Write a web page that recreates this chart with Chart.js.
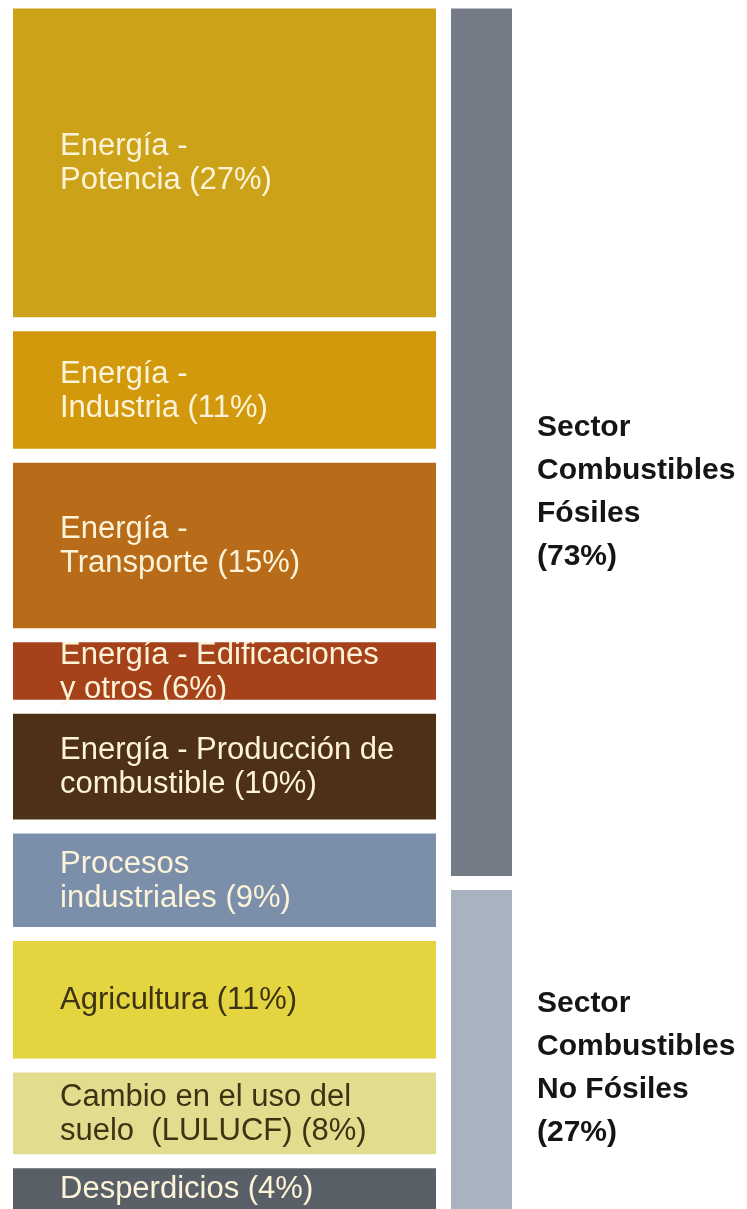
<!DOCTYPE html>
<html lang="es">
<head>
<meta charset="utf-8">
<title>Emisiones por sector</title>
<script src="https://cdn.jsdelivr.net/npm/chart.js@4.4.1/dist/chart.umd.min.js"></script>
<style>
  html, body { margin: 0; padding: 0; background: #fff; }
  body { width: 747px; height: 1209px; position: relative; overflow: hidden; }
  #sector-chart { position: absolute; left: 13px; top: 0; }
  #group-chart { position: absolute; left: 451px; top: 0; }
</style>
</head>
<body>
<canvas id="sector-chart" width="423" height="1209"></canvas>
<canvas id="group-chart" width="296" height="1209"></canvas>
<script>
// sectores (columna izquierda)
const sectorLabels = [
    ['Energía -', 'Potencia (27%)'],
    ['Energía -', 'Industria (11%)'],
    ['Energía -', 'Transporte (15%)'],
    ['Energía - Edificaciones', 'y otros (6%)'],
    ['Energía - Producción de', 'combustible (10%)'],
    ['Procesos', 'industriales (9%)'],
    ['Agricultura (11%)'],
    ['Cambio en el uso del', 'suelo  (LULUCF) (8%)'],
    ['Desperdicios (4%)']
];
const sectorValues = [27, 11, 15, 6, 10, 9, 11, 8, 4];
const sectorColors = ['#cca218', '#d1990b', '#b86b19', '#a5421a', '#4d3015', '#7b8fab', '#e4d43f', '#e2dc8f', '#595f67'];
const sectorTextColors = ['#fdf3d8', '#fdf3d8', '#fdf3d8', '#fdf3d8', '#fdf3d8', '#fdf3d8', '#3d3312', '#3d3312', '#fdf3d8'];

// grupos (columna derecha)
const groupLabels = [
    ['Sector', 'Combustibles', 'Fósiles', '(73%)'],
    ['Sector', 'Combustibles', 'No Fósiles', '(27%)']
];
const groupValues = [73, 27];
const groupColors = ['#757b86', '#a8b3bf'];

const GAP = 7; // half of the white gap between blocks

function borderFor(i, n) {
    return { top: GAP, bottom: i === n - 1 ? 0 : GAP, left: 0, right: 0 };
}

function baseOptions(maxValue, padding) {
    return {
        responsive: false,
        animation: false,
        events: [],
        layout: { padding: padding },
        plugins: { legend: { display: false }, tooltip: { enabled: false } },
        scales: {
            x: { display: false, stacked: true },
            y: { display: false, stacked: true, reverse: true, min: 0, max: maxValue }
        }
    };
}

function blockBox(chart, i) {
    const el = chart.getDatasetMeta(i).data[0];
    const bw = chart.data.datasets[i].borderWidth;
    const top = Math.min(el.y, el.base) + bw.top;
    const bottom = Math.max(el.y, el.base) - bw.bottom;
    return { left: el.x - el.width / 2, right: el.x + el.width / 2, top: top, bottom: bottom };
}

const sectorTextPlugin = {
    id: 'sectorText',
    afterDatasetsDraw(chart) {
        const ctx = chart.ctx;
        ctx.save();
        ctx.font = '31px "Liberation Sans", Arial, sans-serif';
        ctx.textAlign = 'left';
        ctx.textBaseline = 'middle';
        const lh = 34;
        sectorLabels.forEach((lines, i) => {
            const box = blockBox(chart, i);
            const cy = (box.top + box.bottom) / 2;
            ctx.fillStyle = sectorTextColors[i];
            lines.forEach((line, j) => {
                ctx.fillText(line, box.left + 47, cy + (j - (lines.length - 1) / 2) * lh + 1);
            });
        });
        ctx.restore();
    }
};

const groupTextPlugin = {
    id: 'groupText',
    afterDatasetsDraw(chart) {
        const ctx = chart.ctx;
        ctx.save();
        ctx.font = 'bold 30px "Liberation Sans", Arial, sans-serif';
        ctx.textAlign = 'left';
        ctx.textBaseline = 'middle';
        ctx.fillStyle = '#151515';
        const lh = 43;
        groupLabels.forEach((lines, i) => {
            const box = blockBox(chart, i);
            const cy = box.top + (box.bottom - box.top) * 0.558;
            lines.forEach((line, j) => {
                ctx.fillText(line, box.right + 25, cy + (j - (lines.length - 1) / 2) * lh);
            });
        });
        ctx.restore();
    }
};

function makeDatasets(values, colors) {
    return values.map((v, i) => ({
        data: [v],
        backgroundColor: colors[i],
        borderColor: '#ffffff',
        borderWidth: borderFor(i, values.length),
        borderSkipped: false,
        inflateAmount: 0,
        barPercentage: 1,
        categoryPercentage: 1
    }));
}

document.addEventListener('DOMContentLoaded', () => {
    const sectorTotal = sectorValues.reduce((a, b) => a + b, 0);
    const groupTotal = groupValues.reduce((a, b) => a + b, 0);

    new Chart(document.getElementById('sector-chart'), {
        type: 'bar',
        data: { labels: [''], datasets: makeDatasets(sectorValues, sectorColors) },
        options: baseOptions(sectorTotal, { top: 1.5, bottom: 0, left: 0, right: 0 }),
        plugins: [sectorTextPlugin]
    });

    new Chart(document.getElementById('group-chart'), {
        type: 'bar',
        data: { labels: [''], datasets: makeDatasets(groupValues, groupColors) },
        options: baseOptions(groupTotal, { top: 1.5, bottom: 0, left: 0, right: 235 }),
        plugins: [groupTextPlugin]
    });
});
</script>
</body>
</html>
